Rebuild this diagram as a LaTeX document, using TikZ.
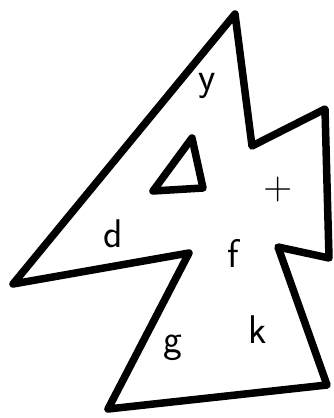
\documentclass[tikz,border=0pt]{standalone}
\usepackage{tikz}
\tikzset{
  outline/.style={line width=7.5pt,line join=round},
  letter/.style={font=\sffamily\fontsize{40}{40}\selectfont,inner sep=0pt}
}

\begin{document}
\begin{tikzpicture}[x=1pt,y=-1pt]
  \useasboundingbox (0,0) rectangle (333,418);
  % outer outline
  \draw[outline] (235,14) -- (252,146) -- (325,109) -- (329,258) -- (278,247)
    -- (327,385) -- (108,409) -- (189,253) -- (13,284) -- cycle;
  % hole
  \draw[outline] (192,138) -- (203,188) -- (153,191) -- cycle;
  \node[letter] (y) at (207,86) {y};
  \node[letter] (t) at (278,190) {+};
  \node[letter] (d) at (113,234) {d};
  \node[letter] (f) at (233,253) {f};
  \node[letter] (g) at (173,348) {g};
  \node[letter] (k) at (258,330) {k};
\end{tikzpicture}
\end{document}
